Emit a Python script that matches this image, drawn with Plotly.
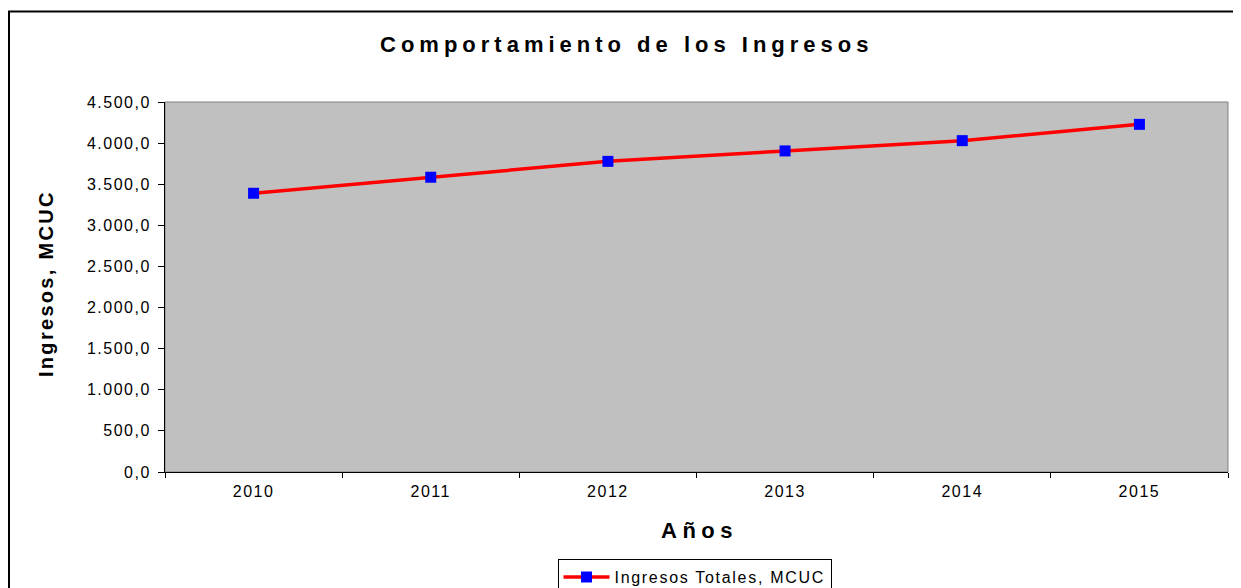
import plotly.graph_objects as go

# ---- data ----
years = ["2010", "2011", "2012", "2013", "2014", "2015"]
ingresos = [3390, 3585, 3778, 3905, 4030, 4228]
y_ticks = [0, 500, 1000, 1500, 2000, 2500, 3000, 3500, 4000, 4500]
chart_title = "Comportamiento de los Ingresos"
x_title = "Años"
y_title = "Ingresos, MCUC"
series_name = "Ingresos Totales, MCUC"

# ---- geometry (page pixels; page body has an 8px margin) ----
OFF = 8
W, H = 1241 - OFF, 588 - OFF
L, R, T, B = 165, 1228, 102, 472   # plot area in page pixels
FONT = "Liberation Sans, Arial, Helvetica, sans-serif"


def px_x(p):
    return (p - L) / (R - L)


def px_y(p):
    return (B - p) / (B - T)


def sp(t, ls):
    return f'<span style="letter-spacing:{ls}px">{t}</span>'


def fmt(v):
    s = f"{v:,.1f}"
    return s.replace(",", "X").replace(".", ",").replace("X", ".")


fig = go.Figure()
fig.add_trace(go.Scatter(
    x=years, y=ingresos, mode="lines+markers", name=sp(series_name, 1.7),
    line=dict(color="#FF0000", width=3.5),
    marker=dict(symbol="square", size=11, color="#0000FF", line=dict(width=0)),
    cliponaxis=False, hoverinfo="x+y",
))

fig.update_layout(
    width=W, height=H, autosize=False,
    margin=dict(l=L - OFF, r=W + OFF - R, t=T - OFF, b=H + OFF - B, autoexpand=False),
    paper_bgcolor="white", plot_bgcolor="#C0C0C0",
    font=dict(family=FONT, color="black"),
    showlegend=True,
    legend=dict(
        x=px_x(694.5), xanchor="center", y=px_y(559), yanchor="top",
        orientation="h", bgcolor="white", bordercolor="black", borderwidth=1,
        font=dict(size=16, family=FONT, color="black"), itemwidth=46,
    ),
    xaxis=dict(
        type="category", range=[-0.5, 5.5], showline=True, linecolor="black", linewidth=1,
        ticks="outside", tickson="boundaries", ticklen=5, tickcolor="black",
        ticklabelstandoff=5,
        tickvals=years, ticktext=[sp(y, 1.5) for y in years],
        tickfont=dict(size=16, family=FONT, color="black"),
        showgrid=False, zeroline=False, fixedrange=True,
    ),
    yaxis=dict(
        range=[0, 4500], showline=True, linecolor="black", linewidth=1,
        ticks="outside", ticklen=6, tickcolor="black",
        ticklabelstandoff=4,
        tickvals=y_ticks, ticktext=[sp(fmt(v), 1.5) for v in y_ticks],
        tickfont=dict(size=16, family=FONT, color="black"),
        showgrid=False, zeroline=False, fixedrange=True,
    ),
    shapes=[
        dict(type="rect", xref="paper", yref="paper", x0=0, x1=1, y0=0, y1=1,
             line=dict(color="#808080", width=1), layer="below"),
        dict(type="rect", xref="paper", yref="paper",
             x0=px_x(9), x1=px_x(1239.5), y0=px_y(600), y1=px_y(11.5),
             line=dict(color="black", width=2), layer="above"),
    ],
    annotations=[
        dict(text="<b>" + sp(chart_title, 5) + "</b>", xref="paper", yref="paper",
             x=px_x(626.5), y=px_y(44.5), xanchor="center", yanchor="middle",
             showarrow=False, font=dict(size=22, family=FONT, color="black")),
        dict(text="<b>" + sp(y_title, 2.3) + "</b>", xref="paper", yref="paper",
             x=px_x(45.5), y=px_y(283.5), xanchor="center", yanchor="middle",
             textangle=-90, showarrow=False, font=dict(size=20, family=FONT, color="black")),
        dict(text="<b>" + sp(x_title, 5.5) + "</b>", xref="paper", yref="paper",
             x=px_x(699), y=px_y(530.5), xanchor="center", yanchor="middle",
             showarrow=False, font=dict(size=22, family=FONT, color="black")),
    ],
)

fig.write_html("out.html")
